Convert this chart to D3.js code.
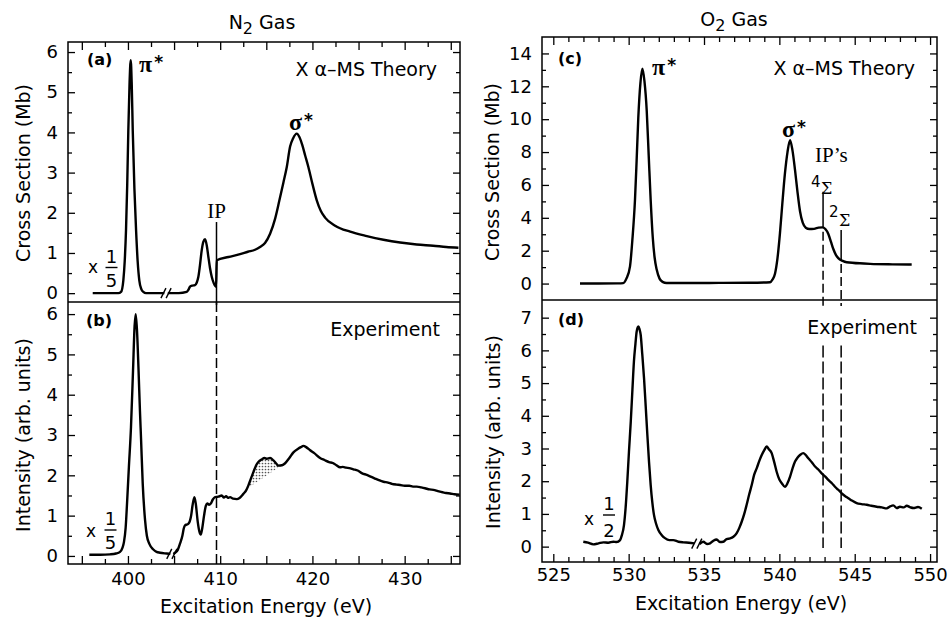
<!DOCTYPE html>
<html><head><meta charset="utf-8">
<script src="https://cdn.jsdelivr.net/npm/d3@7"></script>
<style>
body{margin:0;background:#fff}
svg{display:block}
text{font-family:"DejaVu Sans",sans-serif;fill:#000}
</style>
</head><body>
<svg id="chart" width="949" height="617"></svg>
<script>
// ---------------- DATA ----------------
// N2 Xα-MS theory cross section (Mb), [energy eV, value]
const n2Theory = [
[396.18,0],[397.5,0],[398.96,0],[399.25,0.03],[399.5,0.32],[399.65,0.8],[399.79,1.57],[399.92,2.7],[400.04,4.05],[400.17,5.2],[400.3,5.8],[400.41,5.2],[400.52,4.05],[400.7,2.6],[400.88,1.57],[401.05,0.8],[401.23,0.32],[401.45,0.1],[401.67,0.03],[401.96,0],[403.0,0],[403.95,0],
[404.32,0],[405.5,0],[406.37,0.03],[406.55,0.08],[406.73,0.16],[407.0,0.19],[407.27,0.2],[407.45,0.26],[407.63,0.4],[407.8,0.68],[408.0,1.07],[408.18,1.28],[408.36,1.34],[408.55,1.18],[408.72,0.9],[408.9,0.62],[409.09,0.4],[409.3,0.25],[409.55,0.16],
[409.63,0.82],[410.9,0.9],[412.15,0.97],[413.0,1.03],[413.78,1.08],[414.32,1.15],[414.86,1.25],[415.41,1.48],[415.95,1.85],[416.42,2.31],[416.85,2.75],[417.22,3.14],[417.58,3.65],[417.9,3.85],[418.3,3.97],[418.6,3.88],[418.88,3.7],[419.22,3.42],[419.56,3.14],[420.0,2.72],[420.47,2.31],[420.9,2.05],[421.37,1.88],[422.46,1.68],[424.09,1.53],[425.9,1.42],[427.7,1.33],[429.51,1.26],[431.3,1.21],[433.09,1.18],[434.5,1.15],[435.83,1.13]
];
// N2 experiment intensity (arb. units)
const n2Experiment = [
[395.81,0.03],[397,0.03],[398.06,0.04],[398.7,0.06],[399.14,0.1],[399.4,0.2],[399.57,0.35],[399.75,0.7],[399.9,1.3],[400.1,2.2],[400.33,3.2],[400.55,4.6],[400.72,5.7],[400.84,6.0],[400.98,5.6],[401.15,4.6],[401.3,3.6],[401.42,2.9],[401.6,1.8],[401.85,0.9],[402.05,0.5],[402.32,0.3],[402.75,0.16],[403.1,0.1],[403.48,0.08],[404.2,0.06],[404.6,0.05],
[404.92,0.05],[405.11,0.08],[405.4,0.15],[405.65,0.31],[405.9,0.5],[406.05,0.68],[406.19,0.76],[406.4,0.78],[406.55,0.8],[406.7,0.86],[406.85,1.0],[407.0,1.25],[407.2,1.46],[407.35,1.3],[407.57,0.84],[407.75,0.6],[407.89,0.53],[408.05,0.68],[408.25,1.0],[408.45,1.25],[408.61,1.3],[408.8,1.27],[408.98,1.3],[409.2,1.4],[409.44,1.46],[409.8,1.47],[410.17,1.5],[410.4,1.45],[410.64,1.48],[410.85,1.44],[411.07,1.46],[411.4,1.42],[411.8,1.41],[412.1,1.44],[412.51,1.54],[412.8,1.62],[413.06,1.75],[413.3,1.9],[413.6,2.08],[413.9,2.25],[414.14,2.33],[414.54,2.4],[414.8,2.43],[415.05,2.41],[415.41,2.43],[415.77,2.37],[416.05,2.3],[416.31,2.24],[416.7,2.25],[417.04,2.3],[417.5,2.43],[417.94,2.57],[418.45,2.66],[418.75,2.7],[419.02,2.73],[419.32,2.7],[419.75,2.62],[420.2,2.55],[420.83,2.43],[421.3,2.38],[421.8,2.33],[422.27,2.3],[422.6,2.25],[423.0,2.2],[423.3,2.21],[423.65,2.19],[424.0,2.18],[424.44,2.15],[424.9,2.12],[425.4,2.05],[425.9,2.01],[426.3,1.97],[426.79,1.92],[427.2,1.88],[427.7,1.84],[428.2,1.82],[428.6,1.79],[429.1,1.77],[429.51,1.76],[430.0,1.74],[430.5,1.74],[430.9,1.72],[431.32,1.72],[431.8,1.7],[432.2,1.68],[432.7,1.65],[433.12,1.64],[433.6,1.61],[434.1,1.58],[434.5,1.56],[434.93,1.55],[435.4,1.53],[435.96,1.52]
];
// O2 Xα-MS theory cross section (Mb)
const o2Theory = [
[526.77,0],[528,0],[529.3,0.01],[529.64,0.03],[529.85,0.3],[530.09,1.05],[530.25,2.7],[530.42,5.1],[530.53,7.5],[530.64,10.1],[530.78,12.2],[530.91,13.07],[531.05,12.3],[531.2,10.5],[531.33,7.8],[531.46,5.1],[531.6,2.8],[531.72,1.6],[531.86,0.85],[532.05,0.3],[532.25,0.1],[532.52,0.03],[534,0.03],[536,0.04],[538,0.05],[539.38,0.08],[539.55,0.25],[539.71,0.6],[539.87,1.5],[540.04,3.07],[540.2,4.9],[540.37,6.7],[540.54,8.0],[540.71,8.72],[540.87,8.1],[541.04,6.9],[541.2,5.6],[541.37,4.4],[541.55,3.7],[541.75,3.4],[542.0,3.32],[542.3,3.33],[542.6,3.4],[542.85,3.42],[543.05,3.32],[543.25,3.02],[543.42,2.55],[543.58,2.1],[543.75,1.75],[543.91,1.55],[544.2,1.38],[544.47,1.3],[545.6,1.22],[546.02,1.2],[547.5,1.17],[548.78,1.16]
];
// O2 experiment intensity (arb. units)
const o2Experiment = [
[526.99,0.15],[527.3,0.12],[527.65,0.07],[528.0,0.1],[528.32,0.13],[528.65,0.12],[528.98,0.15],[529.2,0.14],[529.43,0.2],[529.55,0.35],[529.69,0.66],[529.8,1.2],[529.91,1.99],[530.02,2.9],[530.14,3.82],[530.25,4.8],[530.35,5.66],[530.45,6.2],[530.53,6.57],[530.64,6.73],[530.72,6.65],[530.8,6.47],[530.9,5.9],[531.02,5.15],[531.13,4.3],[531.24,3.42],[531.35,2.6],[531.46,1.89],[531.57,1.35],[531.68,0.97],[531.82,0.7],[531.97,0.51],[532.2,0.35],[532.41,0.26],[532.7,0.2],[532.96,0.2],[533.3,0.15],[533.63,0.13],[534.0,0.12],[534.35,0.1],
[534.7,0.08],[534.95,0.15],[535.2,0.08],[535.4,0.1],[535.62,0.18],[535.84,0.22],[536.05,0.14],[536.28,0.15],[536.5,0.23],[536.73,0.25],[536.95,0.3],[537.17,0.41],[537.35,0.58],[537.5,0.76],[537.67,1.0],[537.83,1.28],[538.0,1.6],[538.17,1.89],[538.33,2.2],[538.5,2.4],[538.67,2.62],[538.83,2.8],[539.0,2.95],[539.16,3.06],[539.3,2.98],[539.49,2.86],[539.65,2.6],[539.82,2.29],[540.0,2.05],[540.16,1.94],[540.37,1.83],[540.55,1.95],[540.71,2.14],[540.88,2.4],[541.04,2.6],[541.2,2.72],[541.37,2.8],[541.59,2.86],[541.75,2.8],[541.92,2.7],[542.15,2.58],[542.37,2.45],[542.6,2.35],[542.81,2.24],[543.05,2.14],[543.25,2.04],[543.5,1.93],[543.69,1.83],[543.9,1.74],[544.14,1.63],[544.35,1.55],[544.58,1.48],[544.85,1.4],[545.13,1.33],[545.45,1.3],[545.8,1.28],[546.1,1.25],[546.46,1.22],[546.8,1.2],[547.12,1.17],[547.35,1.23],[547.56,1.26],[547.8,1.18],[548.0,1.22],[548.25,1.2],[548.45,1.25],[548.7,1.2],[548.89,1.18],[549.2,1.21],[549.45,1.16]
];
const n2TheoryBreak = 404.13;
const n2ExperimentBreak = 404.76;
const o2ExperimentBreak = 534.52;
const n2IP = 409.6;
const o2IPs = [542.9, 544.1];
const n2ShadeRange = [412.9, 416.7];
const n2XTickLabels = [400, 410, 420, 430];
const o2XTickLabels = [525, 530, 535, 540, 545, 550];
const n2ATicks = [0, 1, 2, 3, 4, 5, 6];
const n2BTicks = [0, 1, 2, 3, 4, 5, 6];
const o2CTicks = [0, 2, 4, 6, 8, 10, 12, 14];
const o2DTicks = [0, 1, 2, 3, 4, 5, 6, 7];

// ---------------- LAYOUT ----------------
const svg = d3.select("#chart");
const L = {x0: 68, x1: 460, top: 42, mid: 302, bot: 564};
const R = {x0: 542, x1: 937, top: 37, mid: 300, bot: 562};

const xN2 = d3.scaleLinear([393.5, 436.0], [L.x0, L.x1]);
const xO2 = d3.scaleLinear([524.25, 550.46], [R.x0, R.x1]);
const yA = d3.scaleLinear([-0.22, 6.25], [L.mid, L.top]);
const yB = d3.scaleLinear([-0.2, 6.3], [L.bot, L.mid]);
const yC = d3.scaleLinear([-1, 15], [R.mid, R.top]);
const yD = d3.scaleLinear([-0.47, 7.54], [R.bot, R.mid]);

const defs = svg.append("defs");
const pat = defs.append("pattern").attr("id", "dots").attr("width", 3).attr("height", 3).attr("patternUnits", "userSpaceOnUse");
pat.append("rect").attr("width", 3).attr("height", 3).attr("fill", "#fff");
pat.append("circle").attr("cx", 1.5).attr("cy", 1.5).attr("r", 0.85).attr("fill", "#555");

function range(a, b, s) { const r = []; for (let v = a; v <= b + 1e-9; v += s) r.push(+v.toFixed(4)); return r; }

function styleAxis(g, size) {
  g.select(".domain").remove();
  g.selectAll("line").attr("stroke", "#000").attr("stroke-width", 1.3);
  g.attr("font-family", null).attr("font-size", null);
  g.selectAll("text").attr("font-size", size || 18).style("font-family", '"DejaVu Sans",sans-serif');
}

function yAxes(P, y, majors, minors) {
  let g = svg.append("g").attr("transform", `translate(${P.x0},0)`)
    .call(d3.axisLeft(y).tickValues(majors).tickSizeInner(-7).tickSizeOuter(0).tickPadding(10).tickFormat(d3.format("d")));
  styleAxis(g);
  g = svg.append("g").attr("transform", `translate(${P.x0},0)`)
    .call(d3.axisLeft(y).tickValues(minors).tickSizeInner(-4).tickSizeOuter(0).tickFormat(""));
  styleAxis(g);
  g = svg.append("g").attr("transform", `translate(${P.x1},0)`)
    .call(d3.axisRight(y).tickValues(majors).tickSizeInner(-7).tickSizeOuter(0).tickFormat(""));
  styleAxis(g);
  g = svg.append("g").attr("transform", `translate(${P.x1},0)`)
    .call(d3.axisRight(y).tickValues(minors).tickSizeInner(-4).tickSizeOuter(0).tickFormat(""));
  styleAxis(g);
}

function xAxes(x, yTop, yBot, labels, majors, minors, pad) {
  let g = svg.append("g").attr("transform", `translate(0,${yBot})`)
    .call(d3.axisBottom(x).tickValues(labels).tickSizeInner(-8).tickSizeOuter(0).tickPadding(pad).tickFormat(d3.format("d")));
  styleAxis(g);
  g = svg.append("g").attr("transform", `translate(0,${yBot})`)
    .call(d3.axisBottom(x).tickValues(majors.filter(v => !labels.includes(v))).tickSizeInner(-8).tickSizeOuter(0).tickFormat(""));
  styleAxis(g);
  g = svg.append("g").attr("transform", `translate(0,${yBot})`)
    .call(d3.axisBottom(x).tickValues(minors).tickSizeInner(-5).tickSizeOuter(0).tickFormat(""));
  styleAxis(g);
  g = svg.append("g").attr("transform", `translate(0,${yTop})`)
    .call(d3.axisTop(x).tickValues(majors).tickSizeInner(-8).tickSizeOuter(0).tickFormat(""));
  styleAxis(g);
  g = svg.append("g").attr("transform", `translate(0,${yTop})`)
    .call(d3.axisTop(x).tickValues(minors).tickSizeInner(-5).tickSizeOuter(0).tickFormat(""));
  styleAxis(g);
}

yAxes({x0: L.x0, x1: L.x1}, yA, n2ATicks, range(0.5, 6, 1));
yAxes({x0: L.x0, x1: L.x1}, yB, n2BTicks, range(0.5, 6, 1));
yAxes({x0: R.x0, x1: R.x1}, yC, o2CTicks, range(1, 14, 2));
yAxes({x0: R.x0, x1: R.x1}, yD, o2DTicks, range(0.5, 7, 1));
xAxes(xN2, L.top, L.bot, n2XTickLabels, range(395, 435, 5), range(397.5, 435, 5), 8);
xAxes(xO2, R.top, R.bot, o2XTickLabels, range(525, 550, 5), range(526, 549, 1).filter(v => v % 5 !== 0), 6);

function frame(P) {
  svg.append("rect").attr("x", P.x0).attr("y", P.top).attr("width", P.x1 - P.x0).attr("height", P.bot - P.top)
    .attr("fill", "none").attr("stroke", "#000").attr("stroke-width", 1.5);
  svg.append("line").attr("x1", P.x0).attr("x2", P.x1).attr("y1", P.mid).attr("y2", P.mid)
    .attr("stroke", "#000").attr("stroke-width", 1.5);
}
frame(L); frame(R);

// ---------------- CURVES ----------------
function interp(data, e) {
  const i = d3.bisector(d => d[0]).left(data, e);
  if (i <= 0) return data[0][1];
  if (i >= data.length) return data[data.length - 1][1];
  const a = data[i - 1], b = data[i];
  return a[1] + (b[1] - a[1]) * (e - a[0]) / (b[0] - a[0]);
}

function drawCurve(data, x, y, brk) {
  const line = d3.line().x(d => x(d[0])).y(d => y(d[1])).curve(d3.curveMonotoneX);
  const parts = brk == null ? [data] : [data.filter(d => d[0] < brk), data.filter(d => d[0] > brk)];
  parts.forEach(p => svg.append("path").attr("d", line(p)).attr("fill", "none")
    .attr("stroke", "#000").attr("stroke-width", 2.4).attr("stroke-linejoin", "round"));
  if (brk != null) {
    const cx = x(brk), cy = y(interp(data, brk));
    [-2.6, 2.6].forEach(dx => svg.append("line")
      .attr("x1", cx + dx - 2.5).attr("y1", cy + 5).attr("x2", cx + dx + 2.5).attr("y2", cy - 5)
      .attr("stroke", "#000").attr("stroke-width", 1.4));
  }
}

{
  const [e0, e1] = n2ShadeRange;
  const v0 = interp(n2Experiment, e0), v1 = interp(n2Experiment, e1);
  const pts = [[e0, v0], ...n2Experiment.filter(d => d[0] > e0 && d[0] < e1), [e1, v1]];
  const chord = e => v0 + (v1 - v0) * (e - e0) / (e1 - e0);
  const area = d3.area().x(d => xN2(d[0])).y0(d => yB(chord(d[0]))).y1(d => yB(d[1])).curve(d3.curveMonotoneX);
  svg.append("path").attr("d", area(pts)).attr("fill", "url(#dots)").attr("stroke", "none");
}

drawCurve(n2Theory, xN2, yA, n2TheoryBreak);
drawCurve(n2Experiment, xN2, yB, n2ExperimentBreak);
drawCurve(o2Theory, xO2, yC, null);
drawCurve(o2Experiment, xO2, yD, o2ExperimentBreak);

// ---------------- IP LINES ----------------
function vline(x, y1, y2, dash, w) {
  svg.append("line").attr("x1", x).attr("x2", x).attr("y1", y1).attr("y2", y2)
    .attr("stroke", "#000").attr("stroke-width", w || 1.5).attr("stroke-dasharray", dash || null);
}
vline(xN2(n2IP), yA(1.77), L.mid + 3);
vline(xN2(n2IP), L.mid, L.bot, "10,4");
const o2IPTops = [5.59, 3.26];
o2IPs.forEach((e, i) => {
  const cv = interp(o2Theory, e);
  vline(xO2(e), yC(o2IPTops[i]), yC(cv));
  vline(xO2(e), yC(cv) + 4, R.mid + 6, "9,4");
  vline(xO2(e), yD(6.15), yD(-0.04), "12,4");
});

// ---------------- TEXT ----------------
function txt(x, y, s, o) {
  o = o || {};
  const t = svg.append("text").attr("x", x).attr("y", y).text(s)
    .attr("font-size", o.size || 19).attr("text-anchor", o.anchor || "start");
  if (o.weight) t.attr("font-weight", o.weight);
  if (o.family) t.style("font-family", o.family);
  if (o.rotate) t.attr("transform", `rotate(-90,${x},${y})`);
  return t;
}
function title(x, y, main, sub, rest) {
  const t = svg.append("text").attr("x", x).attr("y", y).attr("font-size", 19).attr("text-anchor", "middle");
  t.append("tspan").text(main);
  t.append("tspan").text(sub).attr("dy", 5).attr("font-size", 16);
  t.append("tspan").text(rest).attr("dy", -5);
}
title(262, 29, "N", "2", " Gas");
title(734, 26, "O", "2", " Gas");

txt(30, 173, "Cross Section (Mb)", {anchor: "middle", rotate: true});
txt(30, 435, "Intensity (arb. units)", {anchor: "middle", rotate: true});
txt(499, 172, "Cross Section (Mb)", {anchor: "middle", rotate: true});
txt(500, 432, "Intensity (arb. units)", {anchor: "middle", rotate: true});
txt(266, 613, "Excitation Energy (eV)", {anchor: "middle"});
txt(741, 610, "Excitation Energy (eV)", {anchor: "middle"});

txt(87, 65, "(a)", {size: 16, weight: "bold"});
txt(86, 326, "(b)", {size: 16, weight: "bold"});
txt(558, 64, "(c)", {size: 16, weight: "bold"});
txt(558, 325, "(d)", {size: 16, weight: "bold"});

txt(437, 76, "X α–MS Theory", {anchor: "end"});
txt(915, 75, "X α–MS Theory", {anchor: "end"});
txt(440, 336, "Experiment", {anchor: "end"});
txt(917, 334, "Experiment", {anchor: "end"});

function starLabel(x, y, g) {
  const t = svg.append("text").attr("x", x).attr("y", y).style("font-family", '"Liberation Serif",serif')
    .attr("font-weight", "bold").attr("font-size", 24);
  t.append("tspan").text(g);
  t.append("tspan").text("*").attr("font-size", 17).attr("dy", -4).attr("dx", 2).style("font-family", '"DejaVu Sans",sans-serif');
}
starLabel(139, 72, "π");
starLabel(289, 130, "σ");
starLabel(652, 75, "π");
starLabel(782, 137, "σ");

const serif = '"DejaVu Serif",serif';
txt(216.5, 218, "IP", {anchor: "middle", size: 21, family: '"Liberation Serif",serif'});
txt(815, 162, "IP’s", {size: 21, family: '"Liberation Serif",serif'});
txt(811, 187, "4", {size: 15, family: '"DejaVu Sans",sans-serif'});
txt(821, 194, "Σ", {size: 16, family: serif});
txt(829, 217, "2", {size: 15, family: '"DejaVu Sans",sans-serif'});
txt(839, 226, "Σ", {size: 16, family: serif});

function frac(xx, xb, xc, numY, barY, denY, num, den) {
  txt(xx, xb, "x", {size: 17});
  txt(xc, numY, num, {anchor: "middle", size: 18});
  svg.append("line").attr("x1", xc - 6).attr("x2", xc + 6).attr("y1", barY).attr("y2", barY)
    .attr("stroke", "#000").attr("stroke-width", 1.4);
  txt(xc, denY, den, {anchor: "middle", size: 18});
}
frac(88, 273, 111.5, 263, 267.5, 287, "1", "5");
frac(86, 537, 110.5, 525, 530, 549, "1", "5");
frac(584, 525, 609, 510, 515, 537, "1", "2");
</script>
</body></html>
